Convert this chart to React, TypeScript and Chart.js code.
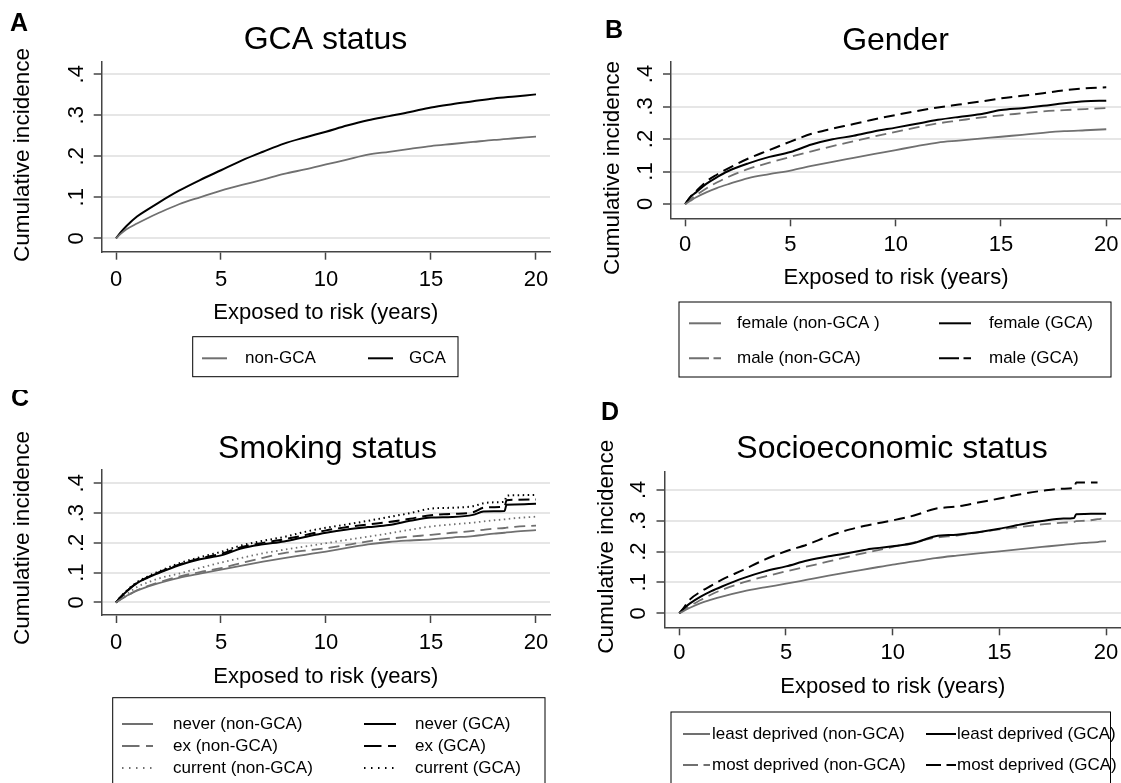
import { useEffect, useRef } from 'react';
import { Chart, registerables } from 'chart.js';

Chart.register(...registerables);

const FONT = '"Liberation Sans", Arial, Helvetica, sans-serif';
Chart.defaults.font.family = FONT;
Chart.defaults.color = '#000';

const BLACK = '#000000';
const GRAY = '#707070';
const AXIS = '#444444';

// ---------- shared axes ----------
const xTicks = [0, 5, 10, 15, 20];
const yTicks = [0, 0.1, 0.2, 0.3, 0.4];
const yTickLabels = ['0', '.1', '.2', '.3', '.4'];
const xAxisTitle = 'Exposed to risk (years)';
const yAxisTitle = 'Cumulative incidence';

// ---------- Panel A: GCA status ----------
const timeA = [0, 0.25, 0.5, 1, 1.5, 2, 3, 4, 5, 6, 7, 8, 9, 10, 11, 12, 13, 14, 15, 16, 17, 18, 19, 20];
const nonGcaA = [0, 0.012, 0.022, 0.036, 0.049, 0.061, 0.083, 0.1, 0.116, 0.13, 0.143, 0.157, 0.168, 0.18, 0.192, 0.204, 0.211, 0.218, 0.225, 0.23, 0.235, 0.24, 0.244, 0.248];
const gcaA = [0, 0.016, 0.03, 0.053, 0.07, 0.086, 0.116, 0.142, 0.166, 0.19, 0.211, 0.231, 0.246, 0.26, 0.275, 0.288, 0.298, 0.308, 0.319, 0.327, 0.334, 0.341, 0.346, 0.351];

// ---------- Panel B: Gender ----------
const timeB = [0, 0.25, 0.5, 1, 1.5, 2, 3, 4, 5, 6, 7, 8, 9, 10, 11, 12, 13, 14, 15, 16, 17, 18, 19, 20];
const femaleNonB = [0, 0.01, 0.02, 0.036, 0.049, 0.06, 0.08, 0.092, 0.103, 0.117, 0.13, 0.142, 0.154, 0.166, 0.178, 0.189, 0.195, 0.201, 0.207, 0.213, 0.219, 0.224, 0.227, 0.23];
const maleNonB = [0, 0.014, 0.026, 0.048, 0.066, 0.082, 0.108, 0.127, 0.145, 0.162, 0.178, 0.193, 0.208, 0.222, 0.236, 0.248, 0.257, 0.266, 0.273, 0.279, 0.285, 0.289, 0.292, 0.295];
const femaleGcaB = [0, 0.022, 0.035, 0.062, 0.082, 0.1, 0.125, 0.145, 0.16, 0.183, 0.199, 0.21, 0.224, 0.235, 0.247, 0.259, 0.268, 0.276, 0.289, 0.295, 0.302, 0.31, 0.316, 0.318];
const maleGcaB = [0, 0.022, 0.038, 0.069, 0.09, 0.108, 0.14, 0.166, 0.192, 0.216, 0.232, 0.246, 0.261, 0.274, 0.286, 0.297, 0.306, 0.315, 0.325, 0.333, 0.341, 0.35, 0.356, 0.359];

// ---------- Panel C: Smoking status ----------
const timeC = [0, 0.25, 0.5, 1, 1.5, 2, 3, 4, 5, 6, 7, 8, 9, 10, 11, 12, 13, 14, 15, 16, 17, 17.5, 18, 18.5, 18.6, 19, 20];
const neverNonC = [0, 0.012, 0.022, 0.04, 0.053, 0.064, 0.083, 0.097, 0.11, 0.124, 0.137, 0.149, 0.16, 0.171, 0.183, 0.195, 0.203, 0.208, 0.212, 0.218, 0.223, 0.227, 0.231, 0.234, 0.235, 0.238, 0.243];
const exNonC = [0, 0.012, 0.022, 0.041, 0.055, 0.067, 0.087, 0.102, 0.115, 0.133, 0.15, 0.166, 0.174, 0.182, 0.193, 0.205, 0.214, 0.221, 0.227, 0.234, 0.24, 0.244, 0.248, 0.25, 0.251, 0.254, 0.258];
const currentNonC = [0, 0.014, 0.027, 0.052, 0.067, 0.08, 0.097, 0.116, 0.134, 0.15, 0.165, 0.177, 0.188, 0.199, 0.21, 0.221, 0.232, 0.244, 0.255, 0.262, 0.268, 0.272, 0.276, 0.279, 0.28, 0.283, 0.288];
const neverGcaC = [0, 0.02, 0.037, 0.065, 0.083, 0.098, 0.125, 0.145, 0.158, 0.182, 0.195, 0.205, 0.22, 0.234, 0.245, 0.253, 0.26, 0.274, 0.285, 0.287, 0.294, 0.305, 0.306, 0.307, 0.328, 0.329, 0.331];
const exGcaC = [0, 0.02, 0.037, 0.066, 0.084, 0.1, 0.127, 0.148, 0.163, 0.186, 0.2, 0.212, 0.226, 0.242, 0.253, 0.262, 0.27, 0.281, 0.293, 0.297, 0.303, 0.318, 0.32, 0.322, 0.343, 0.345, 0.346];
const currentGcaC = [0, 0.021, 0.039, 0.068, 0.087, 0.103, 0.131, 0.152, 0.17, 0.192, 0.207, 0.22, 0.237, 0.251, 0.262, 0.274, 0.287, 0.3, 0.315, 0.318, 0.323, 0.333, 0.336, 0.338, 0.358, 0.36, 0.361];

// ---------- Panel D: Socioeconomic status ----------
const timeD = [0, 0.25, 0.5, 1, 1.5, 2, 3, 4, 5, 6, 7, 8, 9, 10, 11, 12, 13, 14, 15, 16, 17, 18, 18.5, 18.6, 19, 19.6, 20];
const leastNonD = [0, 0.009, 0.018, 0.033, 0.044, 0.054, 0.071, 0.084, 0.096, 0.109, 0.122, 0.134, 0.146, 0.158, 0.168, 0.179, 0.187, 0.194, 0.201, 0.208, 0.215, 0.222, 0.225, 0.226, 0.228, 0.231, 0.234];
const mostNonD = [0, 0.012, 0.024, 0.043, 0.061, 0.076, 0.1, 0.119, 0.136, 0.152, 0.168, 0.185, 0.2, 0.215, 0.23, 0.245, 0.252, 0.262, 0.272, 0.28, 0.288, 0.294, 0.296, 0.299, 0.3, 0.305, 0.31];
const leastGcaD = [0, 0.018, 0.032, 0.054, 0.072, 0.087, 0.114, 0.136, 0.152, 0.171, 0.185, 0.196, 0.209, 0.217, 0.228, 0.25, 0.255, 0.263, 0.274, 0.288, 0.299, 0.307, 0.309, 0.321, 0.322, 0.323, 0.323];
const mostGcaD = [0, 0.022, 0.045, 0.07, 0.09, 0.109, 0.141, 0.174, 0.201, 0.223, 0.25, 0.272, 0.288, 0.301, 0.317, 0.339, 0.346, 0.359, 0.372, 0.386, 0.397, 0.404, 0.406, 0.424, 0.424, 0.424, null];

type DashKind = 'solid' | 'dash' | 'dot';
type SeriesDef = { label: string; values: (number | null)[]; color: string; dash: DashKind };
type Col = { x1: number; x2: number; tx: number };
type PanelDef = {
  key: string;
  letter: string;
  title: string;
  time: number[];
  series: SeriesDef[];
  box: { left: number; top: number; width: number; height: number };
  area: { left: number; top: number; right: number; bottom: number };
  xRange: [number, number];
  yRange: [number, number];
  xTickPad: number;
  xTitleCenter: number;
  letterPos: [number, number];
  titlePos: [number, number];
  yTitlePos: [number, number];
  legend: { box: [number, number, number, number]; rows: number[]; cols: Col[]; dash: number[] };
};

const CURVE_DASH: Record<DashKind, number[]> = { solid: [], dash: [11, 6], dot: [1.5, 3.5] };

const panels: PanelDef[] = [
  {
    key: 'A', letter: 'A', title: 'GCA status', time: timeA,
    series: [
      { label: 'non-GCA', values: nonGcaA, color: GRAY, dash: 'solid' },
      { label: 'GCA', values: gcaA, color: BLACK, dash: 'solid' },
    ],
    box: { left: 0, top: 0, width: 560, height: 390 },
    area: { left: 101.7, top: 61.7, right: 550, bottom: 251.7 },
    xRange: [-0.681, 20.667], yRange: [-0.0327, 0.4307],
    xTickPad: 7, xTitleCenter: 313,
    letterPos: [10, 31], titlePos: [325.5, 49], yTitlePos: [23, 155],
    legend: { box: [192.7, 336.7, 458, 376.7], rows: [358.3], cols: [{ x1: 202, x2: 227, tx: 245 }, { x1: 368, x2: 393, tx: 409 }], dash: [18, 5] },
  },
  {
    key: 'B', letter: 'B', title: 'Gender', time: timeB,
    series: [
      { label: 'female (non-GCA )', values: femaleNonB, color: GRAY, dash: 'solid' },
      { label: 'female (GCA)', values: femaleGcaB, color: BLACK, dash: 'solid' },
      { label: 'male (non-GCA)', values: maleNonB, color: GRAY, dash: 'dash' },
      { label: 'male (GCA)', values: maleGcaB, color: BLACK, dash: 'dash' },
    ],
    box: { left: 560, top: 0, width: 570, height: 390 },
    area: { left: 671, top: 62, right: 1121, bottom: 218.3 },
    xRange: [-0.674, 20.7], yRange: [-0.044, 0.437],
    xTickPad: 5.5, xTitleCenter: 278,
    letterPos: [605, 38], titlePos: [895.5, 50], yTitlePos: [612.8, 168],
    legend: { box: [679, 302, 1111, 377], rows: [323.3, 358.3], cols: [{ x1: 689, x2: 721, tx: 737 }, { x1: 939, x2: 971, tx: 989 }], dash: [20, 4.5] },
  },
  {
    key: 'C', letter: 'C', title: 'Smoking status', time: timeC,
    series: [
      { label: 'never (non-GCA)', values: neverNonC, color: GRAY, dash: 'solid' },
      { label: 'never (GCA)', values: neverGcaC, color: BLACK, dash: 'solid' },
      { label: 'ex (non-GCA)', values: exNonC, color: GRAY, dash: 'dash' },
      { label: 'ex (GCA)', values: exGcaC, color: BLACK, dash: 'dash' },
      { label: 'current (non-GCA)', values: currentNonC, color: GRAY, dash: 'dot' },
      { label: 'current (GCA)', values: currentGcaC, color: BLACK, dash: 'dot' },
    ],
    box: { left: 0, top: 390, width: 560, height: 400 },
    area: { left: 101.7, top: 470, right: 550, bottom: 615 },
    xRange: [-0.681, 20.667], yRange: [-0.042, 0.4446],
    xTickPad: 7, xTitleCenter: 677,
    letterPos: [11, 406], titlePos: [327.5, 458], yTitlePos: [22.5, 538],
    legend: { box: [112.7, 697.7, 545, 830], rows: [724, 746, 768], cols: [{ x1: 122, x2: 153, tx: 173 }, { x1: 364, x2: 396, tx: 415 }], dash: [17.5, 6.5] },
  },
  {
    key: 'D', letter: 'D', title: 'Socioeconomic status', time: timeD,
    series: [
      { label: 'least deprived (non-GCA)', values: leastNonD, color: GRAY, dash: 'solid' },
      { label: 'least deprived (GCA)', values: leastGcaD, color: BLACK, dash: 'solid' },
      { label: 'most deprived (non-GCA)', values: mostNonD, color: GRAY, dash: 'dash' },
      { label: 'most deprived (GCA)', values: mostGcaD, color: BLACK, dash: 'dash' },
    ],
    box: { left: 560, top: 390, width: 570, height: 400 },
    area: { left: 664.5, top: 471.7, right: 1121, bottom: 627.3 },
    xRange: [-0.694, 20.7], yRange: [-0.0454, 0.459],
    xTickPad: 4.5, xTitleCenter: 687,
    letterPos: [601, 420], titlePos: [892, 458], yTitlePos: [606.8, 546.7],
    legend: { box: [671, 712, 1110.5, 830], rows: [734, 765], cols: [{ x1: 683, x2: 710, tx: 712 }, { x1: 926, x2: 956, tx: 957 }], dash: [15, 5.5] },
  },
];

function legendDash(kind: DashKind, dash: number[]): number[] {
  if (kind === 'solid') return [];
  if (kind === 'dot') return [1.5, 5.5];
  return dash;
}

function decorPlugin(def: PanelDef) {
  const ox = def.box.left;
  const oy = def.box.top;
  return {
    id: 'decor' + def.key,
    afterDraw(chart: any) {
      const ctx: CanvasRenderingContext2D = chart.ctx;
      ctx.save();
      ctx.fillStyle = '#000';
      // panel letter
      ctx.font = `bold 25px ${FONT}`;
      ctx.textAlign = 'left';
      ctx.textBaseline = 'alphabetic';
      ctx.fillText(def.letter, def.letterPos[0] - ox, def.letterPos[1] - oy);
      // title
      ctx.font = `32px ${FONT}`;
      ctx.textAlign = 'center';
      ctx.fillText(def.title, def.titlePos[0] - ox, def.titlePos[1] - oy);
      // y axis title
      ctx.save();
      ctx.translate(def.yTitlePos[0] - ox, def.yTitlePos[1] - oy);
      ctx.rotate(-Math.PI / 2);
      ctx.font = `22.5px ${FONT}`;
      ctx.textAlign = 'center';
      ctx.textBaseline = 'middle';
      ctx.fillText(yAxisTitle, 0, 0);
      ctx.restore();
      // legend
      const [l, t, r, b] = def.legend.box;
      ctx.strokeStyle = '#000';
      ctx.lineWidth = 1;
      ctx.setLineDash([]);
      ctx.strokeRect(l - ox, t - oy, r - l, b - t);
      ctx.fillStyle = '#fff';
      const ds = chart.data.datasets;
      def.series.forEach((s, i) => {
        const row = Math.floor(i / 2);
        const col = def.legend.cols[i % 2];
        const y = def.legend.rows[row] - oy;
        ctx.beginPath();
        ctx.strokeStyle = ds[i].borderColor;
        ctx.lineWidth = 2;
        ctx.setLineDash(legendDash(s.dash, def.legend.dash));
        ctx.moveTo(col.x1 - ox, y);
        ctx.lineTo(col.x2 - ox, y);
        ctx.stroke();
        ctx.setLineDash([]);
        ctx.fillStyle = '#000';
        ctx.font = `17px ${FONT}`;
        ctx.textAlign = 'left';
        ctx.textBaseline = 'middle';
        ctx.fillText(ds[i].label, col.tx - ox, y);
      });
      ctx.restore();
    },
  };
}

function buildConfig(def: PanelDef): any {
  const ox = def.box.left;
  const oy = def.box.top;
  const yWidth = def.area.left - ox;
  const xHeight = oy + def.box.height - def.area.bottom;
  const padTop = def.area.top - oy;
  const padRight = ox + def.box.width - def.area.right;
  const titleLine = 22 * 1.2;
  const xTitlePadBottom = oy + def.box.height - def.xTitleCenter - titleLine / 2;

  const datasets = def.series.map((s) => ({
    label: s.label,
    data: def.time.map((t, i) => ({ x: t, y: s.values[i] })),
    borderColor: s.color,
    backgroundColor: s.color,
    borderWidth: s.color === BLACK ? 2 : 1.8,
    borderDash: CURVE_DASH[s.dash],
    pointRadius: 0,
    fill: false,
    cubicInterpolationMode: 'monotone',
    spanGaps: false,
  }));

  return {
    type: 'line',
    data: { datasets },
    options: {
      responsive: false,
      animation: false,
      events: [],
      layout: { padding: { left: 0, top: padTop, right: padRight, bottom: 0 } },
      plugins: { legend: { display: false }, tooltip: { enabled: false }, title: { display: false } },
      scales: {
        x: {
          type: 'linear',
          min: def.xRange[0],
          max: def.xRange[1],
          afterBuildTicks: (scale: any) => {
            scale.ticks = xTicks.map((v) => ({ value: v }));
          },
          afterFit: (scale: any) => {
            scale.height = xHeight;
          },
          ticks: {
            autoSkip: false,
            maxRotation: 0,
            minRotation: 0,
            padding: def.xTickPad,
            color: '#000',
            font: { size: 22 },
            callback: (v: number) => String(v),
          },
          grid: { display: true, drawOnChartArea: false, drawTicks: true, tickLength: 8, tickColor: AXIS, tickWidth: 1.5, color: AXIS },
          border: { display: true, color: AXIS, width: 1.5 },
          title: { display: true, text: xAxisTitle, color: '#000', font: { size: 22 }, padding: { top: 0, bottom: xTitlePadBottom } },
        },
        y: {
          type: 'linear',
          min: def.yRange[0],
          max: def.yRange[1],
          afterBuildTicks: (scale: any) => {
            scale.ticks = yTicks.map((v) => ({ value: v }));
          },
          afterFit: (scale: any) => {
            scale.width = yWidth;
          },
          ticks: {
            autoSkip: false,
            minRotation: 90,
            maxRotation: 90,
            crossAlign: 'center',
            padding: 8,
            color: '#000',
            font: { size: 22 },
            callback: (_v: number, i: number) => yTickLabels[i],
          },
          grid: { display: true, drawOnChartArea: true, color: '#e6e6e6', lineWidth: 2, drawTicks: true, tickLength: 8, tickColor: AXIS, tickWidth: 1.5 },
          border: { display: true, color: AXIS, width: 1.5 },
          title: { display: false },
        },
      },
    },
    plugins: [decorPlugin(def)],
  };
}

function Panel({ def }: { def: PanelDef }) {
  const ref = useRef<HTMLCanvasElement>(null);
  useEffect(() => {
    const canvas = ref.current;
    if (!canvas) return;
    const chart = new Chart(canvas, buildConfig(def));
    return () => chart.destroy();
  }, [def]);
  return (
    <canvas
      ref={ref}
      width={def.box.width}
      height={def.box.height}
      style={{ position: 'absolute', left: def.box.left, top: def.box.top, width: def.box.width, height: def.box.height }}
    />
  );
}

export default function App() {
  return (
    <div style={{ position: 'absolute', left: 0, top: 0, width: 1121, height: 783, overflow: 'hidden', background: '#fff' }}>
      {panels.map((p) => (
        <Panel key={p.key} def={p} />
      ))}
    </div>
  );
}
